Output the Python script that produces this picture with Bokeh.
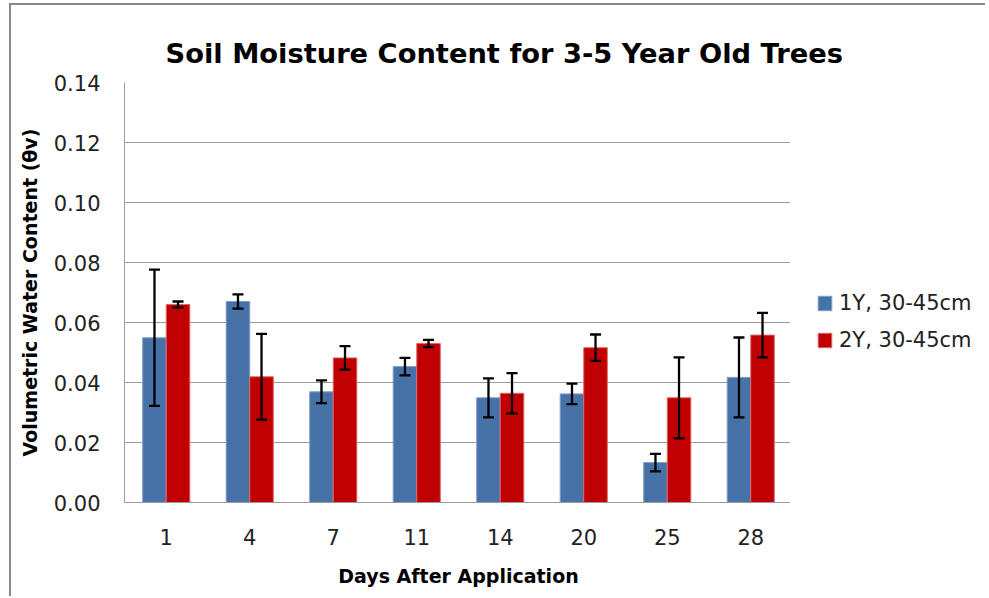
from bokeh.plotting import figure
from bokeh.layouts import row, column
from bokeh.models import (ColumnDataSource, FactorRange, FixedTicker, Whisker, TeeHead,
                          Legend, LegendItem, NumeralTickFormatter, Range1d)
from bokeh.transform import dodge
from bokeh.embed import file_html
from bokeh.resources import INLINE

# ---- data ----
days = ["1", "4", "7", "11", "14", "20", "25", "28"]
y1_mean = [0.0549, 0.0670, 0.0369, 0.0453, 0.0349, 0.0362, 0.0133, 0.0417]   # 1Y, 30-45cm
y1_err = [0.0227, 0.0024, 0.0038, 0.0029, 0.0065, 0.0034, 0.0029, 0.0133]
y2_mean = [0.0660, 0.0419, 0.0482, 0.0530, 0.0364, 0.0516, 0.0349, 0.0558]   # 2Y, 30-45cm
y2_err = [0.0010, 0.0143, 0.0039, 0.0012, 0.0067, 0.0044, 0.0135, 0.0074]
series_names = ["1Y, 30-45cm", "2Y, 30-45cm"]
y_ticks = [0.0, 0.02, 0.04, 0.06, 0.08, 0.10, 0.12, 0.14]
title_text = "Soil Moisture Content for 3-5 Year Old Trees"

FONT = "DejaVu Sans"
BLUE = "#4672A8"
RED = "#C00000"
BORDER = "2px solid #8a8a8a"
TH = 64          # title strip height (border included)
BODY_H = 529     # height of plot row

src = ColumnDataSource(dict(
    day=days,
    m1=y1_mean, lo1=[m - e for m, e in zip(y1_mean, y1_err)], hi1=[m + e for m, e in zip(y1_mean, y1_err)],
    m2=y2_mean, lo2=[m - e for m, e in zip(y2_mean, y2_err)], hi2=[m + e for m, e in zip(y2_mean, y2_err)],
))

# ---- title strip ----
tf = figure(width=976, height=TH, x_range=Range1d(0, 1), y_range=Range1d(0, 1),
            output_backend="svg", toolbar_location=None, x_axis_location=None, y_axis_location=None,
            title_location="below",
            min_border_left=0, min_border_right=0, min_border_top=0, min_border_bottom=0,
            margin=(3, 0, 0, 9), styles={"border-top": BORDER, "border-left": BORDER})
tf.grid.visible = False
tf.outline_line_color = None
tf.border_fill_color = "white"
tf.title.text = title_text
tf.title.text_font = FONT
tf.title.text_font_size = "27.3px"
tf.title.text_font_style = "bold"
tf.title.text_color = "#000000"
tf.title.align = "left"
tf.title.offset = 154
tf.title.standoff = 0
tf.title.vertical_align = "middle"

# ---- main plot ----
p = figure(width=781, height=BODY_H, x_range=FactorRange(*days), y_range=(0, 0.14),
           output_backend="svg", toolbar_location=None, title=None,
           min_border_left=113, min_border_right=0, min_border_top=15, min_border_bottom=94,
           margin=(0, 0, 0, 0), styles={"border-left": BORDER})
p.x_range.range_padding = 0
p.outline_line_color = None
p.background_fill_color = "white"
p.border_fill_color = "white"

# y axis
p.yaxis.ticker = FixedTicker(ticks=y_ticks)
p.yaxis.formatter = NumeralTickFormatter(format="0.00")
p.yaxis.axis_label = "Volumetric Water Content (θv)"
p.yaxis.axis_label_text_font = FONT
p.yaxis.axis_label_text_font_size = "19px"
p.yaxis.axis_label_text_font_style = "bold"
p.yaxis.axis_label_text_color = "#000000"
p.yaxis.axis_label_standoff = 10
p.yaxis.major_label_text_font = FONT
p.yaxis.major_label_text_font_size = "21px"
p.yaxis.major_label_text_color = "#222222"
p.yaxis.major_label_standoff = 24
p.yaxis.major_tick_out = 0
p.yaxis.major_tick_in = 0
p.yaxis.major_tick_line_color = None
p.yaxis.minor_tick_line_color = None
p.yaxis.axis_line_color = "#9c9c9c"

# x axis
p.xaxis.axis_label = "Days After Application"
p.xaxis.axis_label_text_font = FONT
p.xaxis.axis_label_text_font_size = "19px"
p.xaxis.axis_label_text_font_style = "bold"
p.xaxis.axis_label_text_color = "#000000"
p.xaxis.axis_label_standoff = 17
p.xaxis.major_label_text_font = FONT
p.xaxis.major_label_text_font_size = "21px"
p.xaxis.major_label_text_color = "#222222"
p.xaxis.major_label_standoff = 26
p.xaxis.major_tick_out = 0
p.xaxis.major_tick_in = 0
p.xaxis.major_tick_line_color = None
p.xaxis.minor_tick_line_color = None
p.xaxis.axis_line_color = "#9c9c9c"

p.xgrid.grid_line_color = None
p.ygrid.grid_line_color = "#9c9c9c"
p.ygrid.grid_line_width = 1

bw = 0.282
bar_styles = [dict(fill_color=BLUE, line_color="#7f9dc4", line_width=1),
              dict(fill_color=RED, line_color="#e06666", line_width=1)]
p.vbar(x=dodge("day", -bw / 2, range=p.x_range), top="m1", width=bw, source=src, **bar_styles[0])
p.vbar(x=dodge("day", bw / 2, range=p.x_range), top="m2", width=bw, source=src, **bar_styles[1])

for off, lo, hi in [(-bw / 2, "lo1", "hi1"), (bw / 2, "lo2", "hi2")]:
    w = Whisker(base=dodge("day", off, range=p.x_range), lower=lo, upper=hi, source=src,
                level="overlay",
                line_color="black", line_width=2.3,
                upper_head=TeeHead(size=11, line_color="black", line_width=2.3),
                lower_head=TeeHead(size=11, line_color="black", line_width=2.3))
    p.add_layout(w)

# ---- legend panel to the right of the plot area ----
lg = figure(width=197, height=BODY_H, x_range=FactorRange(*days), y_range=(0, 0.14),
            output_backend="svg", toolbar_location=None, title=None,
            x_axis_location=None, y_axis_location=None,
            min_border_left=0, min_border_right=0, min_border_top=15, min_border_bottom=94,
            margin=(0, 0, 0, 0))
lg.grid.visible = False
lg.outline_line_color = None
lg.border_fill_color = "white"
# hidden proxies of the two series (only their legend swatches are shown)
k1 = lg.vbar(x=dodge("day", -bw / 2, range=lg.x_range), top="m1", width=bw, source=src,
             visible=False, **bar_styles[0])
k2 = lg.vbar(x=dodge("day", bw / 2, range=lg.x_range), top="m2", width=bw, source=src,
             visible=False, **bar_styles[1])

legend = Legend(items=[LegendItem(label=series_names[0], renderers=[k1]),
                       LegendItem(label=series_names[1], renderers=[k2])],
                location=(26, 149), orientation="vertical",
                border_line_color=None, background_fill_alpha=0,
                padding=0, margin=0, spacing=11,
                glyph_width=17, glyph_height=18, label_height=26, label_standoff=6,
                label_text_font=FONT, label_text_font_size="21px", label_text_color="#222222")
lg.add_layout(legend)

body = row(p, lg, spacing=0, margin=(0, 0, 0, 9))
layout = column(tf, body, spacing=0)
open("out.html", "w").write(file_html(layout, INLINE))
